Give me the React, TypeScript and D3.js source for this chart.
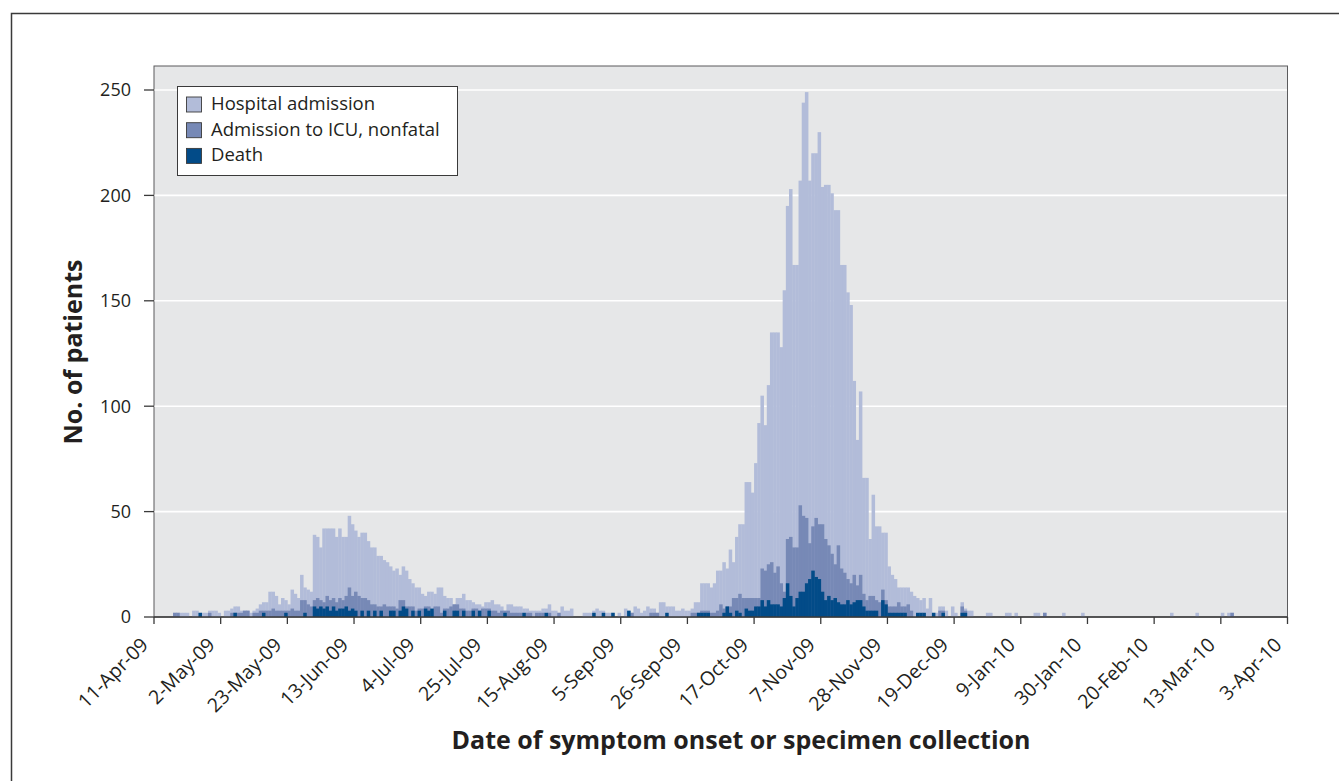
import { useEffect, useRef } from 'react';
import * as d3 from 'd3';

// daily counts, 11-Apr-09 .. 2-Apr-10, one row per 3-week tick interval
// light bars: all hospital admissions
const admissions = [
  0,0,0,0,0,0,2,2,2,2,2,0,3,3,2,2,2,3,3,3,2,
  0,3,3,4,5,5,3,3,3,2,3,4,6,7,7,12,12,10,6,9,8,
  6,13,11,9,20,14,13,12,39,38,33,42,42,42,42,38,42,38,38,48,44,
  41,38,40,40,36,33,33,29,29,27,26,24,22,23,20,24,22,18,16,14,14,
  11,10,12,12,11,14,14,10,9,9,6,9,9,11,8,8,7,6,6,5,7,
  7,8,6,6,5,3,6,6,5,5,5,4,4,3,3,3,3,4,4,6,3,
  3,2,5,3,3,4,0,0,0,2,2,2,3,4,3,3,2,2,2,0,2,
  0,4,3,2,5,4,2,3,5,4,4,2,7,7,5,5,5,3,3,4,3,
  3,4,7,7,16,16,16,14,16,22,22,26,23,32,26,38,44,44,64,64,59,
  73,92,105,91,110,135,135,135,128,155,195,203,167,167,207,244,249,207,220,220,230,
  204,205,205,201,193,193,167,167,154,148,112,84,107,66,66,37,58,43,43,40,40,
  24,20,18,14,14,14,14,12,10,9,8,9,4,9,2,2,5,5,3,0,5,
  2,0,7,4,3,3,0,0,0,0,2,2,0,0,0,0,2,2,0,2,0,
  0,0,0,0,2,2,0,2,0,0,0,0,0,2,0,0,0,0,0,2,0,
  0,0,0,0,0,0,0,0,0,0,0,0,0,0,0,0,0,0,0,0,0,
  0,0,0,0,0,2,0,0,0,0,0,0,0,2,0,0,0,0,0,0,0,
  2,0,2,2,0,0,0,0,0,0,0,0,0,0,0,0,0,0,0,0,0,
];

// medium bars: ICU admissions (top of the ICU part)
const icuAdmissions = [
  0,0,0,0,0,0,2,2,0,0,0,0,0,0,0,0,0,2,0,0,0,
  0,0,0,2,2,2,2,3,3,0,2,2,3,3,3,3,4,3,3,3,3,
  3,4,3,3,8,8,6,5,8,9,8,7,10,8,9,7,9,8,10,14,10,
  12,10,9,9,8,6,6,5,5,6,5,5,5,4,8,8,5,5,5,3,4,
  4,5,5,3,5,5,2,4,4,5,6,6,4,4,3,3,4,4,3,4,4,
  4,3,3,2,3,3,3,2,2,2,2,0,2,2,0,2,2,2,0,2,0,
  0,2,0,0,0,0,0,0,0,0,0,0,0,0,0,0,0,0,0,0,0,
  0,0,0,2,0,0,0,0,0,2,2,2,0,0,0,0,0,0,0,0,0,
  0,2,2,2,3,3,3,2,2,3,6,4,5,5,9,9,11,9,9,9,9,
  9,9,23,22,25,26,21,24,16,12,37,38,33,33,53,48,47,35,43,47,44,
  44,37,34,30,25,34,23,21,18,16,20,15,20,11,8,10,10,8,7,13,8,
  5,5,5,7,5,5,6,3,0,0,0,0,0,0,0,0,3,3,0,0,0,
  0,0,5,3,0,0,0,0,0,0,0,0,0,0,0,0,0,0,0,0,0,
  0,0,0,0,0,0,0,2,0,0,0,0,0,0,0,0,0,0,0,0,0,
  0,0,0,0,0,0,0,0,0,0,0,0,0,0,0,0,0,0,0,0,0,
  0,0,0,0,0,0,0,0,0,0,0,0,0,0,0,0,0,0,0,0,0,
  0,0,0,2,0,0,0,0,0,0,0,0,0,0,0,0,0,0,0,0,0,
];

// dark bars: deaths
const deaths = [
  0,0,0,0,0,0,0,0,0,0,0,0,0,0,2,0,0,0,0,0,0,
  0,0,0,0,2,0,0,0,0,0,0,0,0,2,0,0,0,0,0,0,2,
  0,0,0,0,0,2,0,0,5,4,5,4,5,3,5,3,4,4,5,3,4,
  3,0,3,0,3,0,3,0,3,0,0,3,3,0,3,5,4,0,3,0,3,
  0,4,3,4,0,0,0,3,0,0,3,3,0,3,0,0,3,0,3,0,0,
  3,0,0,0,0,2,0,0,0,0,0,2,0,0,0,0,0,0,2,0,0,
  0,0,0,0,0,0,0,0,0,0,0,0,2,0,0,2,0,0,2,0,0,
  0,0,3,0,0,0,0,0,0,0,0,0,0,0,2,0,0,0,0,0,0,
  0,0,0,2,2,2,2,0,0,0,0,2,5,2,0,3,2,0,4,3,3,
  5,5,8,5,8,6,6,6,5,9,16,10,5,9,12,12,16,18,22,19,18,
  12,8,10,8,9,7,6,6,8,6,7,8,8,5,3,3,3,3,0,8,6,
  2,2,2,2,2,2,0,0,0,2,2,2,0,0,2,0,0,2,0,0,0,
  0,0,2,2,0,0,0,0,0,0,0,0,0,0,0,0,0,0,0,0,0,
  0,0,0,0,0,0,0,0,0,0,0,0,0,0,0,0,0,0,0,0,0,
  0,0,0,0,0,0,0,0,0,0,0,0,0,0,0,0,0,0,0,0,0,
  0,0,0,0,0,0,0,0,0,0,0,0,0,0,0,0,0,0,0,0,0,
  0,0,0,0,0,0,0,0,0,0,0,0,0,0,0,0,0,0,0,0,0,
];

const tickLabels = [
  '11-Apr-09', '2-May-09', '23-May-09', '13-Jun-09', '4-Jul-09', '25-Jul-09',
  '15-Aug-09', '5-Sep-09', '26-Sep-09', '17-Oct-09', '7-Nov-09', '28-Nov-09',
  '19-Dec-09', '9-Jan-10', '30-Jan-10', '20-Feb-10', '13-Mar-10', '3-Apr-10',
];
const yTicks = [0, 50, 100, 150, 200, 250];
const legendLabels = ['Hospital admission', 'Admission to ICU, nonfatal', 'Death'];
const colors = ['#b2bcd9', '#7789b6', '#024b88'];

const font = "'Open Sans', 'Noto Sans', sans-serif";

const App = () => {
  const svgRef = useRef(null);
  const width = 1339;
  const height = 781;
  const plot = { left: 154, right: 1287.5, top: 66, bottom: 617 };

  useEffect(() => {
    const svg = d3.select(svgRef.current);
    svg.selectAll('*').remove();

    const parse = d3.utcParse('%d-%b-%y');
    const tickDates = tickLabels.map(t => parse(t));
    const start = tickDates[0];
    const end = tickDates[tickDates.length - 1];
    const days = d3.utcDay.range(start, end);

    const x = d3.scaleUtc().domain([start, end]).range([plot.left, plot.right]);
    const y = d3.scaleLinear().domain([0, 250]).range([plot.bottom, 90]);

    // outer figure frame
    svg.append('rect')
      .attr('x', 11.5).attr('y', 13.5)
      .attr('width', width).attr('height', height)
      .attr('fill', 'white')
      .attr('stroke', '#3a3a3a')
      .attr('stroke-width', 1.5);

    // plot background
    svg.append('rect')
      .attr('x', plot.left).attr('y', plot.top)
      .attr('width', plot.right - plot.left)
      .attr('height', plot.bottom - plot.top)
      .attr('fill', '#e6e7e8')
      .attr('stroke', '#5b5b5d')
      .attr('stroke-width', 1);

    svg.append('g')
      .selectAll('line')
      .data(yTicks.filter(t => t > 0))
      .join('line')
      .attr('x1', plot.left + 0.5).attr('x2', plot.right - 0.5)
      .attr('y1', d => y(d)).attr('y2', d => y(d))
      .attr('stroke', 'white')
      .attr('stroke-width', 1.6);

    const series = [admissions, icuAdmissions, deaths];
    series.forEach((values, si) => {
      svg.append('g')
        .selectAll('rect')
        .data(days)
        .join('rect')
        .attr('x', d => x(d))
        .attr('width', d => x(d3.utcDay.offset(d, 1)) - x(d) + 0.35)
        .attr('y', (d, i) => y(values[i]))
        .attr('height', (d, i) => y(0) - y(values[i]))
        .attr('fill', colors[si]);
    });

    // y axis ticks + labels
    const yAxis = svg.append('g');
    yAxis.selectAll('line')
      .data(yTicks)
      .join('line')
      .attr('x1', plot.left - 10).attr('x2', plot.left)
      .attr('y1', d => y(d)).attr('y2', d => y(d))
      .attr('stroke', '#3a3a3a')
      .attr('stroke-width', 1.3);
    yAxis.selectAll('text')
      .data(yTicks)
      .join('text')
      .attr('x', 131)
      .attr('y', d => y(d))
      .attr('dy', '0.36em')
      .attr('text-anchor', 'end')
      .attr('font-family', font)
      .attr('font-size', 18)
      .attr('fill', '#231f20')
      .text(d => d);

    // x axis
    svg.append('line')
      .attr('x1', plot.left).attr('x2', plot.right)
      .attr('y1', plot.bottom).attr('y2', plot.bottom)
      .attr('stroke', '#3a3a3a')
      .attr('stroke-width', 1.5);
    const xAxis = svg.append('g');
    xAxis.selectAll('line')
      .data(tickDates)
      .join('line')
      .attr('x1', d => x(d)).attr('x2', d => x(d))
      .attr('y1', plot.bottom).attr('y2', plot.bottom + 7)
      .attr('stroke', '#3a3a3a')
      .attr('stroke-width', 1.3);
    xAxis.selectAll('text')
      .data(tickDates)
      .join('text')
      .attr('transform', (d) => `translate(${x(d) - 4.5}, 646) rotate(-45)`)
      .attr('text-anchor', 'end')
      .attr('font-family', font)
      .attr('font-size', 19.5)
      .attr('fill', '#231f20')
      .text((d, i) => tickLabels[i]);

    // axis titles
    svg.append('text')
      .attr('x', 741)
      .attr('y', 748.5)
      .attr('text-anchor', 'middle')
      .attr('font-family', font)
      .attr('font-weight', 'bold')
      .attr('font-size', 25)
      .attr('fill', '#231f20')
      .text('Date of symptom onset or specimen collection');

    svg.append('text')
      .attr('transform', 'translate(81.5, 352) rotate(-90)')
      .attr('text-anchor', 'middle')
      .attr('font-family', font)
      .attr('font-weight', 'bold')
      .attr('font-size', 25)
      .attr('fill', '#231f20')
      .text('No. of patients');

    // legend
    const legend = svg.append('g');
    legend.append('rect')
      .attr('x', 177.5).attr('y', 86.5)
      .attr('width', 280).attr('height', 89)
      .attr('fill', 'white')
      .attr('stroke', '#3a3a3a')
      .attr('stroke-width', 1);
    const items = legend.selectAll('g')
      .data(legendLabels)
      .join('g')
      .attr('transform', (d, i) => `translate(0, ${i * 25.7})`);
    items.append('rect')
      .attr('x', 186.5).attr('y', 97)
      .attr('width', 15).attr('height', 15)
      .attr('fill', (d, i) => colors[i])
      .attr('stroke', '#3a3a3a')
      .attr('stroke-width', 0.9);
    items.append('text')
      .attr('x', 211)
      .attr('y', 110)
      .attr('font-family', font)
      .attr('font-size', 18.5)
      .attr('fill', '#231f20')
      .text(d => d);
  }, []);

  return (
    <svg
      ref={svgRef}
      width={width}
      height={height}
      style={{ position: 'absolute', left: 0, top: 0, background: 'white' }}
    ></svg>
  );
};

export default App;
